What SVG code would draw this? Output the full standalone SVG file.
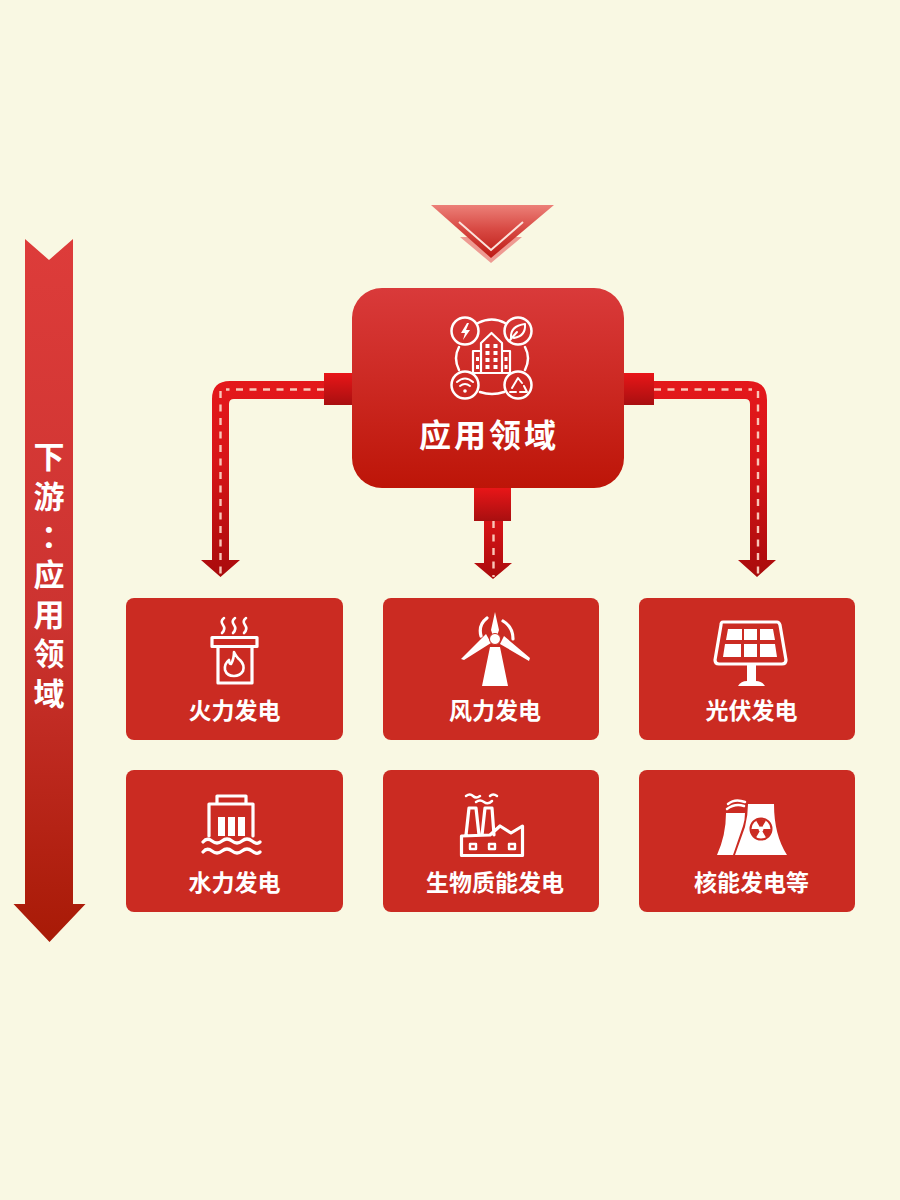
<svg xmlns="http://www.w3.org/2000/svg" width="900" height="1200" viewBox="0 0 900 1200">
<style>
text{font-family:"Noto Sans CJK SC","Noto Sans CJK JP",sans-serif;font-weight:700;fill:#fff;text-anchor:middle}
.lbl{font-size:23px}
.sd{font-size:31px;writing-mode:vertical-rl;text-anchor:start;letter-spacing:8.500px}
.card{fill:#cb2b22}
.ic{fill:none;stroke:#fff;stroke-width:3.200;stroke-linecap:round;stroke-linejoin:round}
.ict{fill:none;stroke:#fff;stroke-width:2.500;stroke-linecap:round;stroke-linejoin:round}
.w{fill:#fff;stroke:none}
.dash{fill:none;stroke:#f9c6b8;stroke-width:2.400;stroke-dasharray:7 6.500}
</style>
<defs>
<linearGradient id="gMain" x1="0" y1="0" x2="0" y2="1"><stop offset="0" stop-color="#d93a3a"/><stop offset="0.45" stop-color="#cd2a24"/><stop offset="1" stop-color="#bd1508"/></linearGradient>
<linearGradient id="gSide" x1="0" y1="0" x2="0" y2="1"><stop offset="0" stop-color="#dd3c3a"/><stop offset="0.55" stop-color="#cc3330"/><stop offset="1" stop-color="#a81a06"/></linearGradient>
<linearGradient id="gTop" x1="0" y1="0" x2="0" y2="1"><stop offset="0" stop-color="#ec8078"/><stop offset="0.45" stop-color="#d84a44"/><stop offset="1" stop-color="#bd1a14"/></linearGradient>
<linearGradient id="gStub" x1="0" y1="0" x2="0" y2="1"><stop offset="0" stop-color="#e81618"/><stop offset="1" stop-color="#a80f10"/></linearGradient>
<linearGradient id="gPipe" gradientUnits="userSpaceOnUse" x1="0" y1="381" x2="0" y2="577"><stop offset="0" stop-color="#e4181b"/><stop offset="0.4" stop-color="#d81518"/><stop offset="1" stop-color="#a90b0c"/></linearGradient>
<linearGradient id="gPipeM" gradientUnits="userSpaceOnUse" x1="0" y1="515" x2="0" y2="580"><stop offset="0" stop-color="#dc1518"/><stop offset="1" stop-color="#a90b0c"/></linearGradient>
</defs>
<rect width="900" height="1200" fill="#f9f8e3"/>

<g id="connectors">
<g id="conn-left">
<path d="M324 381H230Q212 381 212 399V560H201L220.500 577L240 560H229V404Q229 399 234 399H324Z" fill="url(#gPipe)"/>
<rect x="324" y="373" width="28" height="32" fill="url(#gStub)"/>
<path class="dash" d="M324 389.500H226M220.500 391V575"/>
</g>
<g id="conn-mid">
<path d="M484 515V563H474L493 579L512 563H503V515Z" fill="url(#gPipeM)"/>
<rect x="474" y="488" width="37" height="33" fill="url(#gStub)"/>
<path class="dash" d="M493.500 521V577"/>
</g>
<g id="conn-right">
<path d="M654 381H748Q767 381 767 400V560H776L757 577L738 560H750V404Q750 399 745 399H654Z" fill="url(#gPipe)"/>
<rect x="624" y="373" width="30" height="32" fill="url(#gStub)"/>
<path class="dash" d="M654 389.500H752M758 391V575"/>
</g>
</g>

<g id="side-arrow">
<path d="M25 239L49 260L73 239V904H85.500L49.500 942L13.500 904H25Z" fill="url(#gSide)"/>
<text class="sd" x="49" y="441">下游<tspan dx="-7" dy="4">：</tspan><tspan dx="7" dy="-5">应用领域</tspan></text>
</g>

<g id="top-chevron">
<path d="M460 237H522L491 263Z" fill="#ee9a92"/>
<path d="M431 205H554L491 258Z" fill="url(#gTop)"/>
<path d="M459 222L491 250L523 222" fill="none" stroke="#fbe3dc" stroke-width="2"/>
</g>

<g id="node-main">
<rect x="352" y="288" width="272" height="200" rx="30" fill="url(#gMain)"/>
<g class="ict">
<circle cx="465" cy="331" r="13.500"/><circle cx="518" cy="331" r="13.500"/><circle cx="465" cy="385" r="13.500"/><circle cx="518" cy="385" r="13.500"/>
<path d="M478 323Q492 316 505 323M459 347Q453 358 459 370M525 347Q531 358 525 370M480 392Q492 396 504 392"/>
<path class="w" d="M467 323L461 333H465L463 340L470 330H466L469 323Z"/>
<path d="M511 338Q510 326 525 324Q526 336 514 338M510 340L517 332" stroke-width="2"/>
<path d="M457 382Q465 375 473 382M460 386Q465 382 470 386" stroke-width="2"/>
<circle class="w" cx="465" cy="391" r="1.800"/>
<path d="M510 392H516M520 392H527L524 386M512 388L518 378L522 383" stroke-width="2"/>
<path d="M481 373V343L491.500 333L502 343V373M481 351H473V373H510V351H502" stroke-width="2.200"/>
</g>
<g class="w">
<rect x="485.500" y="344" width="4" height="4"/><rect x="493.500" y="344" width="4" height="4"/><rect x="485.500" y="351" width="4" height="4"/><rect x="493.500" y="351" width="4" height="4"/><rect x="485.500" y="358" width="4" height="4"/><rect x="493.500" y="358" width="4" height="4"/><rect x="485.500" y="365" width="4" height="4"/><rect x="493.500" y="365" width="4" height="4"/>
<rect x="476" y="357" width="3" height="4"/><rect x="476" y="365" width="3" height="4"/><rect x="504.500" y="357" width="3" height="4"/><rect x="504.500" y="365" width="3" height="4"/>
</g>
<text x="489" y="447" font-size="32" letter-spacing="3">应用领域</text>
</g>

<g id="node-thermal">
<rect class="card" x="126" y="598" width="217" height="142" rx="8"/>
<g class="ic">
<path d="M224 618Q220 621 223 625T222 633M235 618Q231 621 234 625T233 633M246 618Q242 621 245 625T244 633" stroke-width="2.600"/>
<rect x="212" y="637.500" width="45" height="9"/>
<path d="M218 647V683H252V647"/>
<path d="M234 652Q237 658 240 660Q245 665 243 671Q240 676 234 676Q227 676 225 670Q224 664 229 660Q229 664 231 664Q234 659 234 652Z" stroke-width="2.600"/>
</g>
<text class="lbl" x="234.500" y="719">火力发电</text>
</g>

<g id="node-wind">
<rect class="card" x="383" y="598" width="216" height="142" rx="8"/>
<path class="w" d="M495 612L499 630L497 636L493 636L491 630ZM461 659L486 634L491 643L464 660ZM529 661L500 644L504 636L530 658ZM490 647H500L508 686H482Z"/>
<circle class="w" cx="495" cy="639" r="5.500"/>
<circle cx="495" cy="639" r="5.500" fill="none" stroke="#cb2b22" stroke-width="1"/>
<path class="ic" d="M487 618Q478 625 481 636M503 621Q513 627 513 639" stroke-width="2.500"/>
<text class="lbl" x="495" y="719">风力发电</text>
</g>

<g id="node-solar">
<rect class="card" x="639" y="598" width="216" height="142" rx="8"/>
<path class="ic" d="M723 622H777Q779 622 780 625L786 660Q786 664 782 664H719Q715 664 715 660L721 625Q721 622 723 622Z" stroke-width="3.600"/>
<g class="w">
<path d="M728 629H742V640H726ZM744 629H757V640H744ZM760 629H773L775 640H760ZM725 644H741V657H723ZM744 644H757V657H744ZM760 644H775L777 657H760Z"/>
<rect x="747" y="664" width="9" height="18"/>
<path d="M738 686Q741 681 747 681H756Q762 681 765 686Z"/>
</g>
<text class="lbl" x="751.500" y="719">光伏发电</text>
</g>

<g id="node-hydro">
<rect class="card" x="126" y="770" width="217" height="142" rx="8"/>
<g class="w"><rect x="218" y="817" width="7" height="19"/><rect x="228" y="817" width="7" height="19"/><rect x="238" y="817" width="7" height="19"/></g>
<path class="ic" d="M209 836V804H253V836M217 803V796H246V803" stroke-width="4"/>
<path class="ic" d="M203 842Q207 837 212 841T222 841T232 841T242 841T252 841T260 842M203 852Q207 847 212 851T222 851T232 851T242 851T252 851T260 852" stroke-width="4"/>
<text class="lbl" x="234.500" y="891">水力发电</text>
</g>

<g id="node-biomass">
<rect class="card" x="383" y="770" width="216" height="142" rx="8"/>
<path class="ic" d="M466 835L469 808H476L479 835M482 835L485 808H492L494 835M461.500 836V855.500H522.500V826L511 833L500 826L490 835Z" stroke-width="3"/>
<path class="ict" d="M466 796Q470 793 473 796T480 796M476 802Q480 799 484 802T492 801M490 796Q493 793 497 796"/>
<g class="ic" style="stroke-width:2.400"><rect x="470" y="844" width="6" height="5"/><rect x="489" y="844" width="6" height="5"/><rect x="509" y="844" width="6" height="5"/></g>
<text class="lbl" x="495" y="891">生物质能发电</text>
</g>

<g id="node-nuclear">
<rect class="card" x="639" y="770" width="216" height="142" rx="8"/>
<path class="w" d="M726 813H745Q745 820 743 826L733 855H717Q726 835 726 813ZM748 804H774Q774 835 787 855H735L745 827Q748 815 748 804Z"/>
<path class="ict" d="M728 804Q735 798 745 802M727 809Q735 803 744 806" stroke-width="2"/>
<circle cx="761" cy="829" r="10.500" fill="#fff" stroke="#cb2b22" stroke-width="2"/>
<path fill="#cb2b22" d="M761 829L756 820.500A10 10 0 0 1 766 820.500ZM761 829L771 829A10 10 0 0 1 766 837.500ZM761 829L756 837.500A10 10 0 0 1 751 829Z"/>
<circle cx="761" cy="829" r="2.500" fill="#fff"/>
<text class="lbl" x="751.500" y="891">核能发电等</text>
</g>
</svg>
